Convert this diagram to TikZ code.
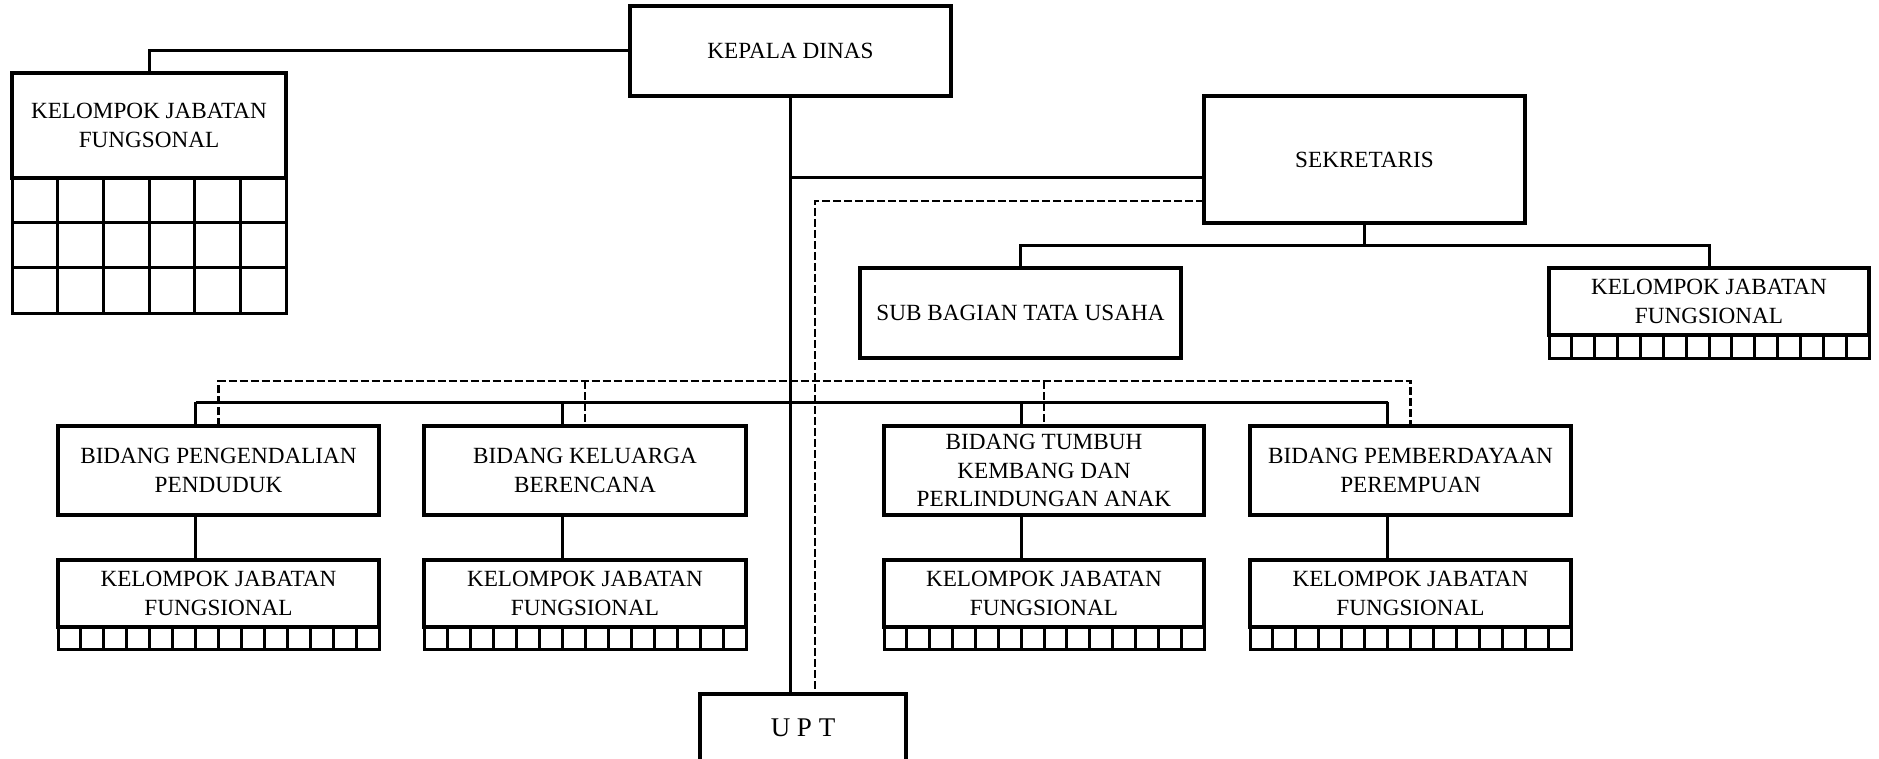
\documentclass[tikz,border=0pt]{standalone}
\usepackage{fontspec}
\setmainfont{Liberation Serif}
\usetikzlibrary{calc}
\begin{document}
\begin{tikzpicture}[x=0.5pt,y=-0.5pt,
  box/.style={draw, line width=1.6pt, inner sep=0pt, outer sep=0pt, align=center,
              font=\fontsize{11.6}{14.7}\selectfont},
  bx/.style n args={4}{minimum width={(#3-#1)*0.5pt}, minimum height={(#4-#2)*0.5pt}, at={({(#1+#3)/2},{(#2+#4)/2})}},
  conn/.style={line width=1.5pt},
  dconn/.style={line width=1.2pt, dash pattern=on 4pt off 1.5pt},
  cell/.style={line width=1.5pt}]
\useasboundingbox (0,0) rectangle (1879,759);

% top level
\node[box, bx={630}{6}{951}{96}] (kd) {KEPALA DINAS};
\node[box, bx={12}{73}{286}{178}] (kjf0) {KELOMPOK JABATAN\\FUNGSONAL};
\draw[cell] (12,178) rectangle (286,313);
\draw[cell] (12,223) -- (286,223) (12,268) -- (286,268);
\foreach \i in {1,...,5} \draw[cell] ({12+\i*274/6},178) -- ({12+\i*274/6},313);

\node[box, bx={1204}{96}{1525}{223}] (sek) {SEKRETARIS};
\node[box, bx={860}{268}{1181}{358}] (sub) {SUB BAGIAN TATA USAHA};
\node[box, bx={1549}{268}{1869}{335}] (kjf1) {KELOMPOK JABATAN\\FUNGSIONAL};
\draw[cell] (1549,335) rectangle (1869,358);
\foreach \i in {1,...,13} \draw[cell] ({1549+\i*320/14},335) -- ({1549+\i*320/14},358);

\node[box, bx={700}{694}{906}{762}, font=\fontsize{13.5}{16}\selectfont] (upt) {U P T};

% bidang row
\node[box, bx={58}{426}{379}{515}] (b1) {BIDANG PENGENDALIAN\\PENDUDUK};
\node[box, bx={424}{426}{746}{515}] (b2) {BIDANG KELUARGA\\BERENCANA};
\node[box, bx={884}{426}{1204}{515}, font=\fontsize{11.6}{14.3}\selectfont] (b3) {BIDANG TUMBUH\\KEMBANG DAN\\PERLINDUNGAN ANAK};
\node[box, bx={1250}{426}{1571}{515}] (b4) {BIDANG PEMBERDAYAAN\\PEREMPUAN};

\node[box, bx={58}{560}{379}{627}] (k1) {KELOMPOK JABATAN\\FUNGSIONAL};
\node[box, bx={424}{560}{746}{627}] (k2) {KELOMPOK JABATAN\\FUNGSIONAL};
\node[box, bx={884}{560}{1204}{627}] (k3) {KELOMPOK JABATAN\\FUNGSIONAL};
\node[box, bx={1250}{560}{1571}{627}] (k4) {KELOMPOK JABATAN\\FUNGSIONAL};
\foreach \a/\b in {58/379,424/746,884/1204,1250/1571}{
  \draw[cell] (\a,627) rectangle (\b,649);
  \foreach \i in {1,...,13} \draw[cell] ({\a+\i*(\b-\a)/14},627) -- ({\a+\i*(\b-\a)/14},649);
}

% connectors: top
\draw[conn] (kjf0.north) |- (kd.west);
\draw[conn] (kd.south) -- (kd.south |- upt.north);
\coordinate (sj) at (791,178);
\draw[conn] (sj) -- (sj -| sek.west);
\coordinate (dj) at (815,201);
\draw[dconn] (dj -| sek.west) -- (dj) -- (dj |- upt.north);

\path (sek.south) ++(0,23) coordinate (sb);
\draw[conn] (sek.south) -- (sb);
\draw[conn] (sub.north) |- (sb) -| (kjf1.north);

% solid bus to bidang
\coordinate (bus) at (0,402);
\foreach \n in {1,2,3,4}{
  \coordinate (s\n) at ($(b\n.north)+(-23,0)$);
}
\draw[conn] (s1 |- bus) -- (s4 |- bus);
\foreach \n in {1,2,3,4}{
  \draw[conn] (s\n |- bus) -- (s\n);
  \draw[conn] (s\n |- b\n.south) -- (s\n |- k\n.north);
}

% dashed bus
\coordinate (dbus) at (0,381);
\draw[dconn] (b1.north) -- (b1.north |- dbus) -- (b4.north |- dbus) -- (b4.north);
\draw[dconn] (b2.north |- dbus) -- (b2.north);
\draw[dconn] (b3.north |- dbus) -- (b3.north);
\end{tikzpicture}
\end{document}
